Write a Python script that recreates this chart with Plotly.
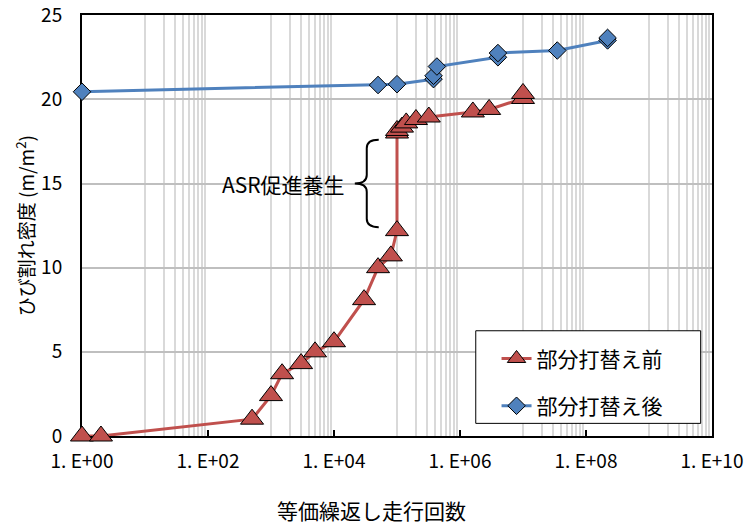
import plotly.graph_objects as go

# Equivalent repeated passes vs. crack density
before_x = [1, 2, 500, 1000, 1500, 3000, 5000, 10000, 30000, 50000, 80000, 100000,
            100000, 100000, 120000, 140000, 200000, 320000, 1600000, 2900000,
            10000000, 10000000]
before_y = [0.0, 0.0, 1.0, 2.4, 3.7, 4.3, 5.0, 5.6, 8.1, 10.0, 10.7, 12.2,
            18.0, 18.15, 18.35, 18.6, 18.8, 18.95, 19.25, 19.4,
            20.05, 20.35]

after_x = [1, 50000, 100000, 380000, 380000, 430000, 4000000, 4000000,
           35000000, 220000000, 220000000]
after_y = [20.45, 20.85, 20.9, 21.2, 21.4, 21.95, 22.5, 22.75,
           22.9, 23.5, 23.65]

before_name = "部分打替え前"
after_name = "部分打替え後"
x_title = "等価繰返し走行回数"
y_title = "ひび割れ密度 (m/m<sup>2</sup>)"
brace_label = "ASR促進養生"

x_tick_vals = [10 ** e for e in range(0, 11, 2)]
x_tick_text = ["1. E+%02d" % e for e in range(0, 11, 2)]
y_tick_vals = [0, 5, 10, 15, 20, 25]

# brace spans the accelerated-curing jump
brace_lo, brace_hi = 12.4, 17.6

FONT = "Noto Sans CJK JP"
RED = "#C0504D"
BLUE = "#4F81BD"

# thin grid lines at 10, 20, ..., 90 within each two-decade step
grid_vals = [k * 10 ** (2 * n + 1) for n in range(5) for k in range(1, 10)]

fig = go.Figure()
fig.add_trace(go.Scatter(
    x=before_x, y=before_y, name=before_name, mode="lines+markers",
    line=dict(color=RED, width=3),
    marker=dict(symbol="triangle-up", size=20, color=RED,
                line=dict(color="black", width=1)),
    cliponaxis=False, legendgroup="a",
))
fig.add_trace(go.Scatter(
    x=after_x, y=after_y, name=after_name, mode="lines+markers",
    line=dict(color=BLUE, width=3),
    marker=dict(symbol="diamond", size=13.5, color=BLUE,
                line=dict(color="black", width=1)),
    cliponaxis=False, legendgroup="b",
))

# brace drawn in paper-x / data-y space
xs, xe, xt = 0.452, 0.471, 0.433
mid = (brace_lo + brace_hi) / 2
d = 0.5
brace_path = (
    f"M {xe},{brace_hi} Q {xs},{brace_hi} {xs},{brace_hi - d} "
    f"L {xs},{mid + d} Q {xs},{mid} {xt},{mid} "
    f"Q {xs},{mid} {xs},{mid - d} "
    f"L {xs},{brace_lo + d} Q {xs},{brace_lo} {xe},{brace_lo}"
)
fig.add_shape(type="path", path=brace_path, xref="paper", yref="y",
              line=dict(color="black", width=2))

# legend frame
fig.add_shape(type="rect", xref="paper", yref="paper",
              x0=0.625, x1=0.982, y0=0.03, y1=0.25,
              fillcolor="white", line=dict(color="black", width=1),
              layer="above")

fig.add_annotation(text=brace_label, xref="paper", yref="y", x=0.421, y=mid,
                   xanchor="right", yanchor="middle", showarrow=False,
                   font=dict(family=FONT, size=21, color="black"))
fig.add_annotation(text=x_title, xref="paper", yref="paper", x=0.46, y=-0.176,
                   xanchor="center", yanchor="middle", showarrow=False,
                   font=dict(family=FONT, size=21, color="black"))
fig.add_annotation(text=y_title, xref="paper", yref="paper", x=-0.091, y=0.5,
                   xanchor="center", yanchor="middle", showarrow=False,
                   textangle=-90,
                   font=dict(family=FONT, size=19, color="black"))

fig.update_layout(
    width=746, height=525,
    margin=dict(l=82, r=34, t=15, b=89, autoexpand=False),
    paper_bgcolor="white", plot_bgcolor="white",
    font=dict(family=FONT, size=19, color="black"),
    showlegend=True,
    legend=dict(x=0.658, y=0.232, xanchor="left", yanchor="top",
                bgcolor="rgba(0,0,0,0)", borderwidth=0,
                font=dict(family=FONT, size=21, color="black"),
                traceorder="grouped", tracegroupgap=17, itemwidth=30),
    xaxis=dict(
        type="log", range=[0, 10], automargin=False,
        tickmode="array", tickvals=x_tick_vals, ticktext=x_tick_text,
        ticks="inside", ticklen=6, tickwidth=1.5, tickcolor="black",
        showgrid=False, zeroline=False,
        showline=True, linecolor="black", linewidth=2, mirror=True,
        ticklabelstandoff=7, ticklabeloverflow="allow",
        minor=dict(tickmode="array", tickvals=grid_vals, showgrid=True,
                   gridcolor="#d9d9d9", gridwidth=1.5, ticks=""),
        layer="below traces",
    ),
    yaxis=dict(
        range=[0, 25.01], automargin=False,
        tickmode="array", tickvals=y_tick_vals,
        ticks="", showgrid=True, gridcolor="#bfbfbf", gridwidth=1.5,
        zeroline=False,
        showline=True, linecolor="black", linewidth=2, mirror=True,
        ticklabelstandoff=14, ticklabeloverflow="allow",
        layer="below traces",
    ),
)

fig.write_html("out.html")
